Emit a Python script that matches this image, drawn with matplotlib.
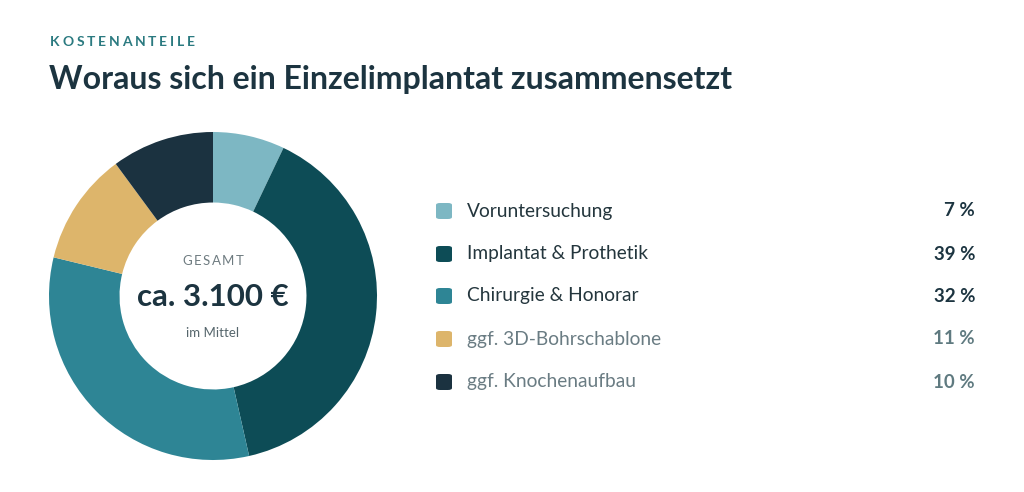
import matplotlib
matplotlib.use("Agg")
import matplotlib.pyplot as plt
from matplotlib.patches import FancyBboxPatch

plt.rcParams['font.family'] = ['Lato', 'DejaVu Sans']

labels = ['Voruntersuchung', 'Implantat & Prothetik', 'Chirurgie & Honorar',
          'ggf. 3D-Bohrschablone', 'ggf. Knochenaufbau']
anteile = [7, 39, 32, 11, 10]
farben = ['#7db7c3', '#0d4c56', '#2e8595', '#ddb56b', '#1b3240']
optional = [False, False, False, True, True]

W, H = 1024, 492
fig = plt.figure(figsize=(W / 100, H / 100), dpi=100)
fig.patch.set_facecolor('white')

def spaced(x, y, s, gap, **kw):
    # draw letters one by one to get letter spacing
    r = fig.canvas.get_renderer()
    for ch in s:
        t = fig.text(x / W, 1 - y / H, ch, transform=fig.transFigure, **kw)
        bb = t.get_window_extent(renderer=r)
        x += bb.width + gap
    return x

spaced(50, 42, 'KOSTENANTEILE', 2.8, fontsize=10, fontweight='bold',
       color='#2b7a80', va='center', ha='left')
fig.text(49 / W, 1 - 80 / H, 'Woraus sich ein Einzelimplantat zusammensetzt',
         fontsize=23, fontweight='bold', color='#1c3440', va='center', ha='left')

# donut
cx, cy, R = 213, 296, 164
ax = fig.add_axes([(cx - R) / W, 1 - (cy + R) / H, 2 * R / W, 2 * R / H])
ax.pie(anteile, colors=farben, startangle=90, counterclock=False,
       wedgeprops=dict(width=0.43, edgecolor='none'), radius=1)
ax.set_xlim(-1, 1)
ax.set_ylim(-1, 1)
ax.set_aspect('equal')
ax.axis('off')

# text in the middle
def mid_spaced(y, s, gap, **kw):
    r = fig.canvas.get_renderer()
    widths = []
    for ch in s:
        t = fig.text(0, 0, ch, **kw)
        widths.append(t.get_window_extent(renderer=r).width)
        t.remove()
    total = sum(widths) + gap * (len(s) - 1)
    spaced(cx - total / 2, y, s, gap, **kw)

mid_spaced(261, 'GESAMT', 1.6, fontsize=9.5, color='#6e7b80', va='center', ha='left')
fig.text(cx / W, 1 - 297 / H, 'ca. 3.100 €', fontsize=22.5, fontweight='bold',
         color='#1c3440', va='center', ha='center')
fig.text(cx / W, 1 - 333 / H, 'im Mittel', fontsize=9.5, color='#56666c',
         va='center', ha='center')

# legend
ys = [211, 254, 296, 339, 382]
for y, lab, val, col, opt in zip(ys, labels, anteile, farben, optional):
    fig.patches.append(FancyBboxPatch((436 / W, 1 - (y + 8) / H), 16 / W, 16 / H,
                                      boxstyle='round,pad=0,rounding_size=0.004',
                                      transform=fig.transFigure, facecolor=col,
                                      edgecolor='none'))
    tcol = '#6a7c83' if opt else '#24363d'
    pcol = '#5f7a80' if opt else '#1c3440'
    fig.text(467 / W, 1 - y / H, lab, fontsize=13.8, color=tcol, va='center', ha='left')
    fig.text(975 / W, 1 - y / H, f'{val} %', fontsize=13.5, fontweight='bold',
             color=pcol, va='center', ha='right')

fig.savefig('out.png', dpi=100, facecolor='white')
